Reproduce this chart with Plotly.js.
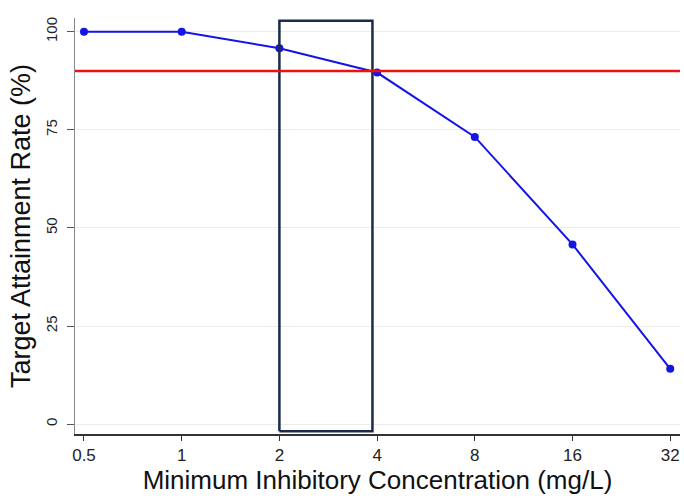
<!DOCTYPE html>
<html>
<head>
<meta charset="utf-8">
<script src="https://cdn.plot.ly/plotly-3.0.1.min.js"></script>
<style>html,body{margin:0;padding:0;background:#fff;}#chart{width:684px;height:498px;}</style>
</head>
<body>
<div id="chart"></div>
<script>
var mic = [0.5, 1, 2, 4, 8, 16, 32];
var attainment = [100, 100, 95.8, 89.6, 73.2, 45.8, 14.1];
var xTickLabels = ["0.5", "1", "2", "4", "8", "16", "32"];
var yTicks = [0, 25, 50, 75, 100];
var targetRate = [90];
var boxX = [2, 3.87];
var boxY = [-1.8, 102.8];

var traces = [
  {
    x: mic, y: attainment, type: 'scatter', mode: 'lines+markers',
    line: {color: '#1414e6', width: 2},
    marker: {color: '#1414e6', size: 8},
    showlegend: false, hoverinfo: 'x+y'
  },
  {
    x: [boxX[0], boxX[1], boxX[1], boxX[0], boxX[0]],
    y: [boxY[0], boxY[0], boxY[1], boxY[1], boxY[0]],
    type: 'scatter', mode: 'lines',
    line: {color: '#1c2b4a', width: 2.5},
    showlegend: false, hoverinfo: 'skip'
  }
];

var layout = {
  width: 684, height: 498,
  margin: {l: 75, r: 4, t: 18, b: 64},
  paper_bgcolor: '#ffffff', plot_bgcolor: '#ffffff',
  font: {family: '"Liberation Sans", Arial, sans-serif', color: '#222'},
  showlegend: false,
  xaxis: {
    type: 'log',
    range: [Math.log10(0.5) - 0.092 * Math.log10(2), Math.log10(32) + 0.10 * Math.log10(2)],
    tickvals: mic, ticktext: xTickLabels,
    ticks: 'outside', ticklen: 5, tickcolor: '#333', tickwidth: 1,
    showgrid: false, zeroline: false,
    showline: true, linecolor: '#333', linewidth: 1.5,
    tickfont: {size: 17, color: '#222'},
    title: {text: 'Minimum Inhibitory Concentration (mg/L)', font: {size: 26, color: '#111'}, standoff: 1}
  },
  yaxis: {
    range: [-2.5, 103.5],
    tickvals: yTicks, ticktext: yTicks.map(String),
    tickangle: -90,
    ticks: 'outside', ticklen: 7, tickcolor: '#555', tickwidth: 1,
    ticklabelstandoff: 4,
    showgrid: true, gridcolor: '#ececec', gridwidth: 1,
    zeroline: false,
    showline: true, linecolor: '#888', linewidth: 1.2,
    tickfont: {size: 15, color: '#222'},
    title: {text: 'Target Attainment Rate (%)', font: {size: 27, color: '#111'}, standoff: 4}
  },
  shapes: [
    {type: 'line', xref: 'paper', x0: 0, x1: 1, yref: 'y', y0: targetRate[0], y1: targetRate[0],
     line: {color: '#ee1111', width: 2.5}}
  ]
};

Plotly.newPlot('chart', traces, layout, {displayModeBar: false, staticPlot: true});
</script>
</body>
</html>
